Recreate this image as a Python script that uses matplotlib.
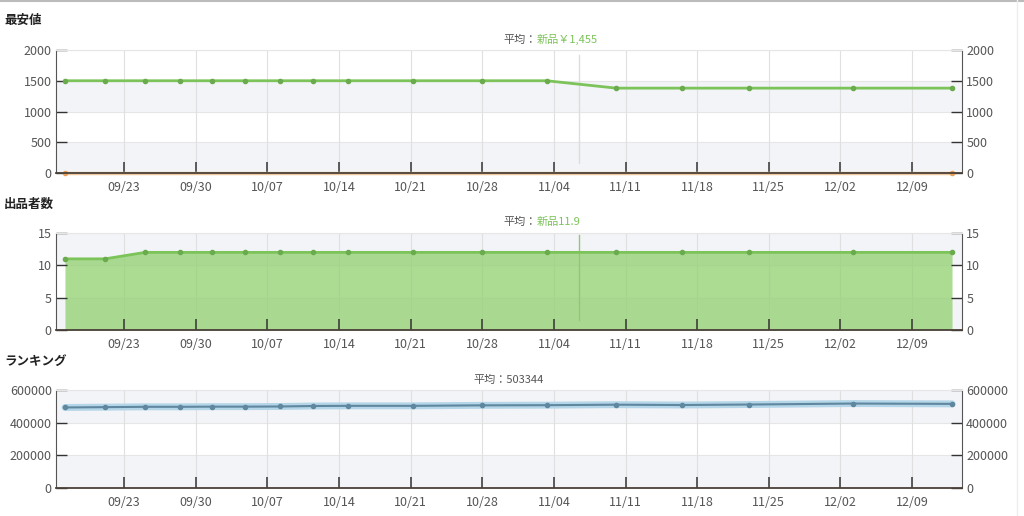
import pandas as pd
import matplotlib.pyplot as plt
import matplotlib.dates as mdates
from matplotlib.lines import Line2D

plt.rcParams['font.family'] = ['Noto Sans CJK JP', 'DejaVu Sans']

# data
dates = pd.to_datetime([
    '2023-09-17 05:00', '2023-09-21 03:00', '2023-09-25 01:00', '2023-09-28 10:00',
    '2023-10-01 14:00', '2023-10-04 19:00', '2023-10-08 05:00', '2023-10-11 12:00',
    '2023-10-14 22:00', '2023-10-21 05:00', '2023-10-28 00:00', '2023-11-03 07:00',
    '2023-11-10 02:00', '2023-11-16 12:00', '2023-11-23 02:00', '2023-12-03 05:00',
    '2023-12-12 22:00'])
price_new = [1500, 1500, 1500, 1500, 1500, 1500, 1500, 1500, 1500, 1500, 1500, 1500,
             1380, 1380, 1380, 1380, 1380]
price_used_dates = pd.to_datetime(['2023-09-17 05:00', '2023-12-12 22:00'])
price_used = [0, 0]
sellers = [11, 11, 12, 12, 12, 12, 12, 12, 12, 12, 12, 12, 12, 12, 12, 12, 12]
ranking = [493000, 495000, 497000, 497000, 498000, 498000, 499000, 502000, 503000,
           503000, 506000, 507000, 510000, 508000, 511000, 517000, 515000]

tick_dates = pd.to_datetime(['2023-09-23', '2023-09-30', '2023-10-07', '2023-10-14',
                             '2023-10-21', '2023-10-28', '2023-11-04', '2023-11-11',
                             '2023-11-18', '2023-11-25', '2023-12-02', '2023-12-09'])
xmin = pd.Timestamp('2023-09-16 08:00')
xmax = pd.Timestamp('2023-12-13 21:30')
cursor = pd.Timestamp('2023-11-06 12:00')

GREEN = '#7cc35a'
GREEN_DOT = '#6aab4e'
FILL = '#97d377'
BAND = '#f3f4f7'
TXT = '#555555'

fig = plt.figure(figsize=(10.24, 5.16), dpi=100)
fig.add_artist(Line2D([0, 1], [0.998, 0.998], color='#bbbbbb', lw=1.5))
fig.add_artist(Line2D([0.9935, 0.9935], [0, 1], color='#eeeeee', lw=1))


def setup(ax, ymax, step, bands):
    ax.set_xlim(xmin, xmax)
    ax.set_ylim(0, ymax)
    for lo in bands:
        ax.axhspan(lo, lo + step, color=BAND, lw=0, zorder=0)
    for v in range(0, ymax + 1, step):
        ax.axhline(v, color='#e6e6e6', lw=0.8, zorder=0.5)
    for d in tick_dates:
        ax.axvline(d, color='#e0e0e0', lw=0.8, zorder=0.5)
    ax.set_xticks(tick_dates)
    ax.xaxis.set_major_formatter(mdates.DateFormatter('%m/%d'))
    ax.set_yticks(range(0, ymax + 1, step))
    ax.tick_params(axis='x', direction='in', length=8, width=1.1, color='#333333',
                   labelsize=9, labelcolor=TXT, pad=6)
    ax.tick_params(axis='y', direction='in', length=8, width=1, color='#333333',
                   labelsize=9, labelcolor=TXT, right=True, labelright=True, pad=3)
    ax.spines['top'].set_color('#e6e6e6')
    ax.spines['bottom'].set_color('#4a4038')
    ax.spines['bottom'].set_linewidth(1.3)
    ax.spines['bottom'].set_zorder(5)
    ax.spines['left'].set_color('#555555')
    ax.spines['right'].set_color('#555555')


def avg_text(y, parts):
    t = fig.text(0.4915, y, parts[0][0], color=parts[0][1], fontsize=8, ha='left', va='center')
    fig.canvas.draw()
    x = t.get_window_extent().x1 / fig.bbox.width
    fig.text(x, y, parts[1][0], color=parts[1][1], fontsize=8, ha='left', va='center')


# panel 1: lowest price
ax1 = fig.add_axes([0.0547, 0.6647, 0.8848, 0.2384])
setup(ax1, 2000, 500, [0, 1000])
ax1.plot(dates, price_new, color=GREEN, lw=2, marker='o', ms=3,
         mfc=GREEN_DOT, mec=GREEN_DOT, zorder=3)
ax1.plot(price_used_dates, price_used, color='#f0c8a0', lw=2.5, marker='o', ms=3,
         mfc='#e8a05a', mec='#e8a05a', zorder=3, clip_on=False)
ax1.axvline(cursor, ymin=0.08, ymax=0.96, color='#dddddd', lw=1, zorder=1)
fig.text(0.004, 0.961, '最安値', fontsize=9, fontweight='bold', color='#222222', va='center')

# panel 2: number of sellers
ax2 = fig.add_axes([0.0547, 0.3605, 0.8848, 0.1880])
setup(ax2, 15, 5, [10, 0])
ax2.fill_between(dates, sellers, color=FILL, alpha=0.8, lw=0, zorder=1.5)
ax2.plot(dates, sellers, color=GREEN, lw=2, marker='o', ms=3,
         mfc=GREEN_DOT, mec=GREEN_DOT, zorder=3)
ax2.axvline(cursor, ymin=0.1, ymax=0.98, color='#93c67a', lw=1, zorder=2)
fig.text(0.004, 0.603, '出品者数', fontsize=9, fontweight='bold', color='#222222', va='center')

# panel 3: ranking
ax3 = fig.add_axes([0.0547, 0.0543, 0.8848, 0.1899])
setup(ax3, 600000, 200000, [400000, 0])
ax3.plot(dates, ranking, color='#b4d6e8', lw=5, solid_capstyle='round', zorder=2)
ax3.plot(dates, ranking, color='#5f879f', lw=1.5, marker='o', ms=3, zorder=3)
fig.text(0.004, 0.3, 'ランキング', fontsize=9, fontweight='bold', color='#222222', va='center')

avg_text(0.923, [('平均：', TXT), ('新品￥1,455', GREEN)])
avg_text(0.570, [('平均：', TXT), ('新品11.9', GREEN)])
fig.text(0.4625, 0.264, '平均：503344', color=TXT, fontsize=8, ha='left', va='center')

fig.savefig('out.png', dpi=100)
